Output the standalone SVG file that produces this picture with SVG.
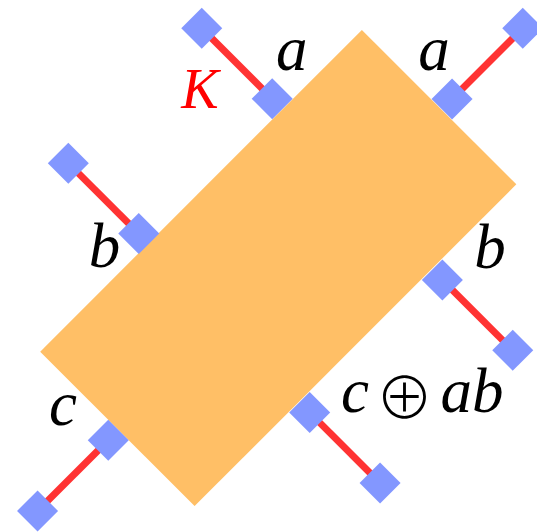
<svg xmlns="http://www.w3.org/2000/svg" width="537" height="532" viewBox="0 0 537 532">
<defs>
<style>
.box{fill:#FFBF66}
.port{fill:#8397FF}
.leg{stroke:#FF3333;stroke-width:7;fill:none}
.lbl{font-family:"Liberation Serif","DejaVu Serif",serif;font-style:italic;font-size:63px;fill:#000;text-anchor:middle}
.op{font-family:"Noto Sans CJK SC","DejaVu Sans",sans-serif;font-style:normal;font-weight:300;font-size:58px}
.k{fill:#FF0000;font-size:56px}
</style>
<rect id="sq" x="-14.5" y="-14.5" width="29" height="29"/>
</defs>
<rect width="537" height="532" fill="#FFFFFF"/>
<g transform="translate(278.25,268) rotate(-45)">
<g id="connectors">
<line class="leg" x1="115.4" y1="-124" x2="115.4" y2="-223.6"/>
<line class="leg" x1="242.4" y1="3.4" x2="342.4" y2="3.4"/>
<line class="leg" x1="-74.3" y1="-123" x2="-74.3" y2="-222.6"/>
<line class="leg" x1="107.6" y1="124.5" x2="107.6" y2="224"/>
<line class="leg" x1="-242" y1="1.6" x2="-342" y2="1.6"/>
<line class="leg" x1="-80" y1="124.5" x2="-80" y2="224"/>
</g>
<g id="gate"><rect class="box" x="-227.5" y="-109.2" width="455" height="218.4"/></g>
<g id="port-a-left-in"><use href="#sq" class="port" x="115.4" y="-124"/></g>
<g id="port-a-left-out"><use href="#sq" class="port" x="115.4" y="-223.6"/></g>
<g id="port-a-right-in"><use href="#sq" class="port" x="242.4" y="3.4"/></g>
<g id="port-a-right-out"><use href="#sq" class="port" x="342.4" y="3.4"/></g>
<g id="port-b-left-in"><use href="#sq" class="port" x="-74.3" y="-123"/></g>
<g id="port-b-left-out"><use href="#sq" class="port" x="-74.3" y="-222.6"/></g>
<g id="port-b-right-in"><use href="#sq" class="port" x="107.6" y="124.5"/></g>
<g id="port-b-right-out"><use href="#sq" class="port" x="107.6" y="224"/></g>
<g id="port-c-left-in"><use href="#sq" class="port" x="-242" y="1.6"/></g>
<g id="port-c-left-out"><use href="#sq" class="port" x="-342" y="1.6"/></g>
<g id="port-c-right-in"><use href="#sq" class="port" x="-80" y="124.5"/></g>
<g id="port-c-right-out"><use href="#sq" class="port" x="-80" y="224"/></g>
</g>
<g id="labels">
<text class="lbl k" x="200" y="108">K</text>
<text class="lbl" x="291.7" y="70">a</text>
<text class="lbl" x="434" y="70">a</text>
<text class="lbl" x="104.5" y="267">b</text>
<text class="lbl" x="490" y="268">b</text>
<text class="lbl" x="63" y="425">c</text>
<text class="lbl" y="411.7"><tspan x="355">c</tspan><tspan class="op" x="404.5" y="419">⊕</tspan><tspan x="472" y="411.7">ab</tspan></text>
</g>
</svg>
